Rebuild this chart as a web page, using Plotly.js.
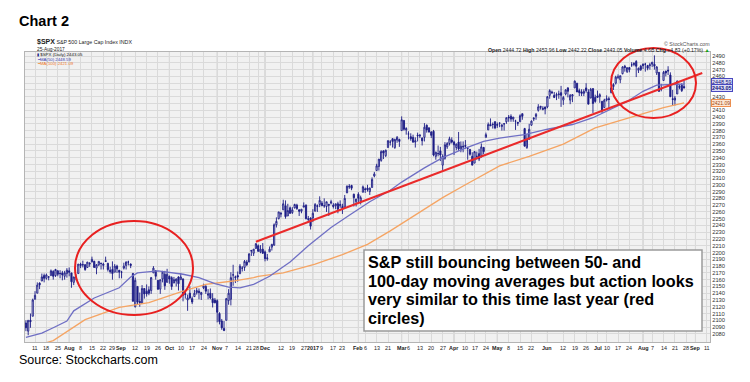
<!DOCTYPE html>
<html><head><meta charset="utf-8">
<script src="https://cdn.plot.ly/plotly-3.0.1.min.js"></script>
<style>html,body{margin:0;padding:0;background:#fff}#chart{width:750px;height:382px}</style>
</head><body><div id="chart"></div><script>
// trading days shown on the axis (data runs to 2017-08-25, axis continues to mid Sep 2017)
const tradingDays = {
 '2016-07':[5,6,7,8,11,12,13,14,15,18,19,20,21,22,25,26,27,28,29],
 '2016-08':[1,2,3,4,5,8,9,10,11,12,15,16,17,18,19,22,23,24,25,26,29,30,31],
 '2016-09':[1,2,6,7,8,9,12,13,14,15,16,19,20,21,22,23,26,27,28,29,30],
 '2016-10':[3,4,5,6,7,10,11,12,13,14,17,18,19,20,21,24,25,26,27,28,31],
 '2016-11':[1,2,3,4,7,8,9,10,11,14,15,16,17,18,21,22,23,25,28,29,30],
 '2016-12':[1,2,5,6,7,8,9,12,13,14,15,16,19,20,21,22,23,27,28,29,30],
 '2017-01':[3,4,5,6,9,10,11,12,13,17,18,19,20,23,24,25,26,27,30,31],
 '2017-02':[1,2,3,6,7,8,9,10,13,14,15,16,17,21,22,23,24,27,28],
 '2017-03':[1,2,3,6,7,8,9,10,13,14,15,16,17,20,21,22,23,24,27,28,29,30,31],
 '2017-04':[3,4,5,6,7,10,11,12,13,17,18,19,20,21,24,25,26,27,28],
 '2017-05':[1,2,3,4,5,8,9,10,11,12,15,16,17,18,19,22,23,24,25,26,30,31],
 '2017-06':[1,2,5,6,7,8,9,12,13,14,15,16,19,20,21,22,23,26,27,28,29,30],
 '2017-07':[3,5,6,7,10,11,12,13,14,17,18,19,20,21,24,25,26,27,28,31],
 '2017-08':[1,2,3,4,7,8,9,10,11,14,15,16,17,18,21,22,23,24,25,28,29,30,31],
 '2017-09':[1,5,6,7,8,11,12,13]
};

// daily OHLC of $SPX, 2016-07-05 .. 2017-08-25 (one row per month)
const open = [
 2096,2084,2100,2106,2131,2140,2155,2158,2166,2162,2164,2166,2172,2166,2173,2169,2170,2165,2169,
 2173,2170,2156,2164,2169,2183,2182,2182,2178,2183,2186,2187,2177,2182,2184,2181,2188,2184,2174,2175,2171,2180,2174,
 2171,2177,2181,2186,2183,2169,2120,2150,2128,2125,2147,2143,2145,2144,2170,2173,2159,2146,2161,2168,2156,
 2165,2163,2155,2158,2164,2160,2161,2138,2130,2140,2132,2135,2141,2143,2138,2148,2150,2137,2140,2132,2130,
 2129,2110,2099,2088,2100,2129,2131,2167,2163,2166,2169,2177,2178,2186,2186,2202,2199,2206,2210,2201,2205,
 2201,2191,2201,2208,2211,2241,2250,2258,2263,2269,2254,2266,2259,2266,2270,2263,2261,2267,2270,2250,2251,
 2251,2261,2268,2271,2273,2269,2268,2271,2273,2270,2269,2272,2269,2268,2267,2288,2298,2299,2286,2275,
 2286,2276,2289,2294,2295,2290,2296,2313,2321,2327,2336,2350,2343,2355,2363,2368,2355,2366,2367,
 2380,2395,2381,2375,2371,2370,2363,2372,2372,2369,2370,2388,2384,2378,2379,2342,2346,2350,2329,2339,2356,2361,2366,
 2363,2355,2363,2353,2357,2358,2354,2352,2342,2332,2342,2346,2343,2355,2370,2381,2389,2389,2393,
 2389,2391,2386,2390,2393,2400,2401,2397,2394,2392,2393,2405,2383,2355,2367,2388,2397,2401,2410,2414,2411,2415,
 2415,2432,2437,2432,2432,2433,2436,2425,2434,2443,2425,2431,2443,2450,2439,2437,2435,2443,2437,2428,2442,2429,
 2431,2430,2423,2414,2425,2427,2436,2445,2450,2459,2455,2464,2475,2467,2473,2477,2479,2482,2469,2475,
 2478,2478,2476,2476,2478,2478,2465,2466,2441,2454,2468,2469,2462,2427,2425,2434,2445,2447,2445
];
const high = [
 2100,2100,2110,2132,2143,2156,2156,2169,2169,2169,2165,2175,2174,2176,2174,2174,2173,2173,2177,
 2178,2170,2164,2168,2183,2185,2188,2183,2186,2186,2194,2188,2183,2187,2185,2185,2194,2185,2179,2187,2183,2182,2174,
 2173,2185,2187,2188,2184,2170,2163,2150,2141,2152,2147,2153,2150,2164,2180,2174,2159,2160,2173,2173,2176,
 2166,2165,2164,2162,2165,2170,2162,2145,2138,2150,2135,2145,2148,2147,2142,2154,2152,2146,2147,2140,2133,
 2131,2112,2102,2099,2133,2146,2171,2182,2166,2172,2183,2180,2189,2189,2199,2204,2205,2214,2212,2211,2214,
 2203,2198,2209,2213,2243,2252,2260,2260,2278,2277,2272,2268,2267,2272,2272,2264,2264,2274,2271,2254,2252,
 2264,2273,2271,2283,2276,2280,2275,2272,2278,2273,2272,2275,2277,2272,2285,2299,2301,2300,2287,2279,
 2289,2284,2299,2296,2300,2296,2311,2319,2331,2338,2351,2351,2352,2366,2366,2369,2368,2372,2368,
 2401,2395,2385,2379,2376,2374,2370,2377,2375,2370,2391,2389,2385,2379,2381,2349,2358,2356,2345,2363,2363,2371,2370,
 2365,2361,2378,2364,2364,2366,2356,2353,2348,2350,2349,2353,2361,2356,2377,2392,2398,2392,2394,
 2392,2392,2390,2391,2399,2403,2404,2400,2396,2393,2404,2405,2384,2375,2390,2395,2400,2406,2419,2416,2416,2415,
 2431,2441,2439,2437,2436,2439,2446,2431,2441,2444,2434,2434,2454,2450,2442,2441,2441,2450,2441,2443,2442,2433,
 2439,2435,2424,2427,2432,2430,2445,2450,2461,2463,2461,2475,2477,2473,2474,2481,2481,2484,2473,2477,
 2479,2480,2477,2480,2481,2491,2475,2466,2449,2468,2468,2475,2466,2440,2431,2454,2449,2450,2454
];
const low = [
 2084,2078,2089,2106,2131,2140,2146,2158,2156,2160,2159,2166,2160,2164,2165,2162,2159,2160,2163,
 2165,2148,2152,2159,2169,2177,2178,2173,2178,2179,2186,2178,2168,2180,2175,2175,2186,2172,2169,2160,2171,2170,2162,
 2162,2175,2175,2181,2177,2128,2119,2124,2120,2124,2132,2135,2137,2139,2170,2160,2145,2139,2156,2145,2156,
 2154,2145,2155,2150,2144,2160,2128,2132,2114,2131,2124,2135,2138,2131,2130,2146,2139,2131,2131,2119,2125,
 2097,2094,2086,2084,2100,2123,2122,2151,2155,2157,2168,2172,2173,2180,2186,2195,2195,2206,2201,2199,2198,
 2187,2188,2201,2203,2210,2237,2249,2252,2263,2250,2254,2257,2257,2265,2263,2254,2258,2267,2249,2245,2234,
 2245,2261,2260,2267,2269,2266,2260,2254,2271,2265,2264,2258,2266,2257,2267,2288,2294,2292,2268,2268,
 2272,2271,2289,2288,2290,2285,2296,2311,2321,2321,2334,2338,2341,2355,2358,2355,2353,2362,2356,
 2380,2380,2374,2367,2365,2362,2355,2364,2369,2358,2364,2377,2377,2369,2342,2337,2342,2335,2322,2337,2353,2358,2361,
 2344,2351,2350,2348,2348,2353,2337,2343,2329,2332,2337,2335,2340,2345,2370,2381,2387,2383,2382,
 2384,2385,2380,2380,2390,2393,2393,2393,2381,2387,2393,2396,2357,2353,2367,2387,2394,2396,2408,2411,2410,2404,
 2413,2427,2434,2428,2425,2427,2415,2418,2432,2429,2419,2422,2443,2437,2431,2431,2431,2436,2419,2428,2406,2421,
 2429,2421,2406,2414,2423,2413,2435,2440,2448,2456,2450,2463,2467,2465,2466,2474,2475,2459,2465,2468,
 2471,2467,2469,2470,2474,2470,2462,2437,2438,2454,2460,2462,2430,2417,2417,2434,2441,2437,2442
];
const close = [
 2089,2100,2098,2130,2137,2152,2152,2164,2162,2167,2164,2173,2165,2175,2168,2169,2167,2170,2174,
 2171,2157,2164,2164,2183,2181,2182,2175,2186,2184,2190,2178,2182,2187,2184,2183,2187,2175,2172,2169,2180,2176,2171,
 2171,2180,2186,2186,2181,2128,2159,2127,2126,2147,2139,2139,2140,2163,2177,2165,2146,2160,2171,2151,2168,
 2161,2150,2160,2161,2154,2164,2137,2139,2133,2133,2127,2140,2144,2141,2141,2151,2143,2139,2133,2126,2126,
 2112,2098,2089,2085,2132,2140,2163,2167,2164,2164,2180,2177,2187,2182,2198,2203,2205,2213,2202,2205,2199,
 2191,2192,2205,2212,2241,2246,2260,2257,2272,2253,2262,2258,2263,2271,2265,2261,2264,2269,2250,2249,2239,
 2258,2271,2269,2277,2269,2269,2275,2270,2275,2268,2272,2264,2271,2265,2280,2298,2297,2295,2281,2279,
 2280,2281,2297,2293,2293,2295,2308,2316,2328,2338,2349,2347,2351,2365,2363,2364,2367,2370,2364,
 2396,2382,2383,2375,2368,2363,2365,2373,2373,2365,2385,2381,2378,2373,2344,2348,2346,2344,2342,2359,2361,2368,2363,
 2359,2360,2353,2357,2356,2357,2354,2345,2329,2349,2342,2338,2356,2349,2374,2389,2387,2389,2384,
 2388,2391,2388,2390,2399,2399,2397,2400,2394,2391,2402,2401,2357,2366,2382,2394,2398,2404,2415,2416,2413,2412,
 2430,2439,2436,2429,2433,2434,2432,2429,2440,2438,2432,2433,2453,2437,2436,2435,2438,2439,2419,2441,2420,2423,
 2429,2433,2410,2425,2427,2426,2443,2448,2459,2459,2461,2474,2473,2473,2470,2477,2478,2475,2472,2470,
 2476,2478,2472,2477,2481,2475,2474,2438,2441,2466,2465,2468,2430,2426,2428,2453,2444,2439,2443
];

// moving averages
const ma50Dates = ['2016-07-05','2016-07-14','2016-07-21','2016-07-29','2016-08-03','2016-08-16','2016-08-31','2016-09-06','2016-09-08','2016-09-13','2016-09-26','2016-10-11','2016-10-20','2016-10-31','2016-11-08','2016-11-15','2016-11-23','2016-12-05','2016-12-16','2016-12-29','2017-01-13','2017-01-26','2017-02-08','2017-02-22','2017-03-01','2017-03-15','2017-03-27','2017-04-10','2017-04-21','2017-05-02','2017-05-17','2017-06-01','2017-06-16','2017-06-29','2017-07-13','2017-07-21','2017-08-01','2017-08-09','2017-08-18','2017-08-25'];
const ma50Values = [2075,2081,2089,2099,2114,2133,2148,2158,2164,2170,2173,2168,2163,2154,2149,2148,2153,2165,2186,2210,2237,2255,2275,2292,2304,2325,2340,2354,2364,2369,2374,2382,2389,2399,2413,2423,2438,2447,2448,2448.6];
const ma100Dates = ['2016-07-05','2016-07-21','2016-08-10','2016-08-31','2016-09-20','2016-10-11','2016-10-25','2016-11-10','2016-11-23','2016-11-28','2016-12-13','2017-01-04','2017-01-23','2017-02-07','2017-02-22','2017-03-09','2017-03-27','2017-04-10','2017-04-21','2017-05-02','2017-05-19','2017-06-12','2017-06-30','2017-07-24','2017-08-14','2017-08-25'];
const ma100Values = [2058,2070,2101,2119,2126,2143,2153,2158,2163,2165,2170,2183,2197,2212,2232,2256,2281,2300,2315,2328,2342,2360,2384,2399,2414,2421.09];

// trend line drawn on the chart (date, price)
const trendStart = ['2016-11-25', 2216];
const trendEnd = ['2017-09-07', 2465];

// x-axis labels
const tickDates = ['2016-07-11','2016-07-18','2016-07-25','2016-08-01','2016-08-08','2016-08-15','2016-08-22','2016-08-29','2016-09-01','2016-09-12','2016-09-19','2016-09-26','2016-10-03','2016-10-10','2016-10-17','2016-10-24','2016-11-01','2016-11-07','2016-11-14','2016-11-21','2016-11-28','2016-12-01','2016-12-12','2016-12-19','2016-12-27','2017-01-03','2017-01-09','2017-01-17','2017-01-23','2017-02-01','2017-02-06','2017-02-13','2017-02-21','2017-03-01','2017-03-06','2017-03-13','2017-03-20','2017-03-27','2017-04-03','2017-04-10','2017-04-17','2017-04-24','2017-05-01','2017-05-08','2017-05-15','2017-05-22','2017-06-01','2017-06-12','2017-06-19','2017-06-26','2017-07-03','2017-07-10','2017-07-17','2017-07-24','2017-08-01','2017-08-07','2017-08-14','2017-08-21','2017-08-28','2017-09-01','2017-09-11'];
const tickLabels = ['11','18','25','Aug','8','15','22','29','Sep','12','19','26','Oct','10','17','24','Nov','7','14','21','28','Dec','12','19','27','2017','9','17','23','Feb','6','13','21','Mar','6','13','20','27','Apr','10','17','24','May','8','15','22','Jun','12','19','26','Jul','10','17','24','Aug','7','14','21','28','Sep','11'];
const monthLabels = ['Aug','Sep','Oct','Nov','Dec','2017','Feb','Mar','Apr','May','Jun','Jul'];

// price axis labels (those hidden behind the last-value tags are left blank)
const priceTicks = [];
for (let v = 2080; v <= 2490; v += 10) priceTicks.push(v);
const hiddenPriceLabels = [2420, 2440, 2450];

// ---------- build ----------
const dates = [];
for (const [ym, days] of Object.entries(tradingDays)) for (const d of days) dates.push(ym + '-' + String(d).padStart(2, '0'));
const pos = d => dates.indexOf(d);
const N = Math.min(open.length, high.length, low.length, close.length);
const xs = [];
for (let i = 0; i < N; i++) xs.push(i);

const NAVY = '#1c1c86';
const FONT = 'Liberation Sans, Arial, sans-serif';
const L = 25, T = 52, W = 685, H = 290;
const PX = p => (p - L) / W, PY = p => (T + H - p) / H;

const traces = [
 {type:'scatter', mode:'lines', x: ma100Dates.map(pos), y: ma100Values, line:{color:'#f5a463', width:1.3}, hoverinfo:'skip'},
 {type:'scatter', mode:'lines', x: ma50Dates.map(pos), y: ma50Values, line:{color:'#6f6fc4', width:1.3}, hoverinfo:'skip'},
 {type:'candlestick', x: xs, open: open.slice(0,N), high: high.slice(0,N), low: low.slice(0,N), close: close.slice(0,N),
  increasing:{line:{color:NAVY, width:0.9}, fillcolor:'rgba(255,255,255,0.4)'},
  decreasing:{line:{color:NAVY, width:0.9}, fillcolor:NAVY},
  whiskerwidth:0, hoverinfo:'skip'}
];

const tickvals = tickDates.map(pos);

const shapes = [];
tickLabels.forEach((t, k) => {
 if (monthLabels.includes(t)) shapes.push({type:'line', layer:'below', xref:'x', yref:'paper', x0:tickvals[k], x1:tickvals[k], y0:0, y1:1, line:{color:'#c4c4c4', width:1}});
});
shapes.push({type:'line', xref:'x', yref:'y', x0:pos(trendStart[0]), y0:trendStart[1], x1:pos(trendEnd[0]), y1:trendEnd[1], line:{color:'#ea2a2a', width:2}});
shapes.push({type:'circle', xref:'paper', yref:'paper', x0:PX(75), x1:PX(193), y0:PY(315), y1:PY(221), line:{color:'#e82020', width:2}});
shapes.push({type:'circle', xref:'paper', yref:'paper', x0:PX(611), x1:PX(696), y0:PY(118), y1:PY(48), line:{color:'#e82020', width:2}});
shapes.push({type:'rect', xref:'paper', yref:'paper', x0:PX(364), x1:PX(702), y0:PY(331), y1:PY(250), fillcolor:'#ffffff', line:{color:'#9a9a9a', width:1.5}});

const ann = (px, py, text, opts = {}) => Object.assign({xref:'paper', yref:'paper', x:PX(px), y:PY(py), text, showarrow:false, xanchor:'left', yanchor:'middle', font:{family:FONT, size:6, color:'#222'}}, opts);
const boxLines = ['S&P still bouncing between 50- and', '100-day moving averages but action looks', 'very similar to this time last year (red', 'circles)'];
const annotations = [
 ann(17, 21, '<b>Chart 2</b>', {font:{family:FONT, size:14.5, color:'#000'}}),
 ann(17, 360, 'Source: Stockcharts.com', {font:{family:FONT, size:12.5, color:'#000'}}),
 ann(35, 42, '<b><span style="font-size:7px">$SPX</span></b> S&P 500 Large Cap Index INDX', {font:{family:FONT, size:5.3, color:'#222'}}),
 ann(35, 49.6, '25-Aug-2017', {font:{family:FONT, size:4.8, color:'#222'}}),
 ann(35, 54.8, '<span style="color:#1c1c86">▮</span> $SPX (Daily) 2443.05', {font:{family:FONT, size:4.4, color:'#111'}}),
 ann(35, 59.2, '━MA(50) 2448.59', {font:{family:FONT, size:4.3, color:'#3a3ab0'}}),
 ann(35, 63.7, '━MA(100) 2421.09', {font:{family:FONT, size:4.3, color:'#f07a2a'}}),
 ann(712, 44.2, '© StockCharts.com', {xanchor:'right', font:{family:FONT, size:5.3, color:'#555'}}),
 ann(712, 49.6, '<b>Open</b> 2444.72 <b>High</b> 2453.96 <b>Low</b> 2442.22 <b>Close</b> 2443.05 <b>Volume</b> 4.6B <b>Chg</b> +4.83 (+0.17%) <span style="color:#10a010">▲</span>', {xanchor:'right', font:{family:FONT, size:5.2, color:'#222'}}),
 ann(711, 82, '2448.59', {font:{family:FONT, size:5.4, color:'#10107a'}, bgcolor:'#dcdcf6', bordercolor:'#4848c0', borderwidth:1, borderpad:0}),
 ann(711, 88, '<b>2443.05</b>', {font:{family:FONT, size:5.4, color:'#10107a'}, bgcolor:'#dcdcf6', bordercolor:'#4848c0', borderwidth:1, borderpad:0}),
 ann(711, 103, '2421.09', {font:{family:FONT, size:5.0, color:'#a04810'}, bgcolor:'#fde6d4', bordercolor:'#f09050', borderwidth:1, borderpad:0})
];
boxLines.forEach((t, k) => annotations.push(ann(366, 262 + k * 18.6, '<b>' + t + '</b>', {font:{family:FONT, size:16.2, color:'#000'}})));

// x-axis labels as annotations on the axis (a weekly label right before a month label is right-aligned to avoid crowding)
tickLabels.forEach((t, k) => {
 const isMonth = monthLabels.includes(t);
 const crowded = !isMonth && k + 1 < tickLabels.length && monthLabels.includes(tickLabels[k + 1]) && tickvals[k + 1] - tickvals[k] <= 3;
 annotations.push({xref:'x', yref:'paper', x:tickvals[k], y:0, yanchor:'top', yshift:-1.5,
  xanchor: crowded ? 'right' : 'center', xshift: crowded ? 1.5 : 0,
  text: isMonth ? '<b>' + t + '</b>' : t, showarrow:false, borderpad:0,
  font:{family:FONT, size:5.4, color:'#222'}});
});

const layout = {
 width:750, height:382, margin:{l:L, r:750 - L - W, t:T, b:382 - T - H},
 paper_bgcolor:'#ffffff', plot_bgcolor:'#f1f1f1', showlegend:false, hovermode:false,
 font:{family:FONT},
 xaxis:{range:[-0.4, 300.4], tickmode:'array', tickvals, showticklabels:false, showgrid:true, gridcolor:'#dadada', gridwidth:1,
  zeroline:false, showline:true, mirror:true, linecolor:'#b4b4b4', linewidth:1, ticks:'',
  rangeslider:{visible:false}, fixedrange:true},
 yaxis:{side:'right', range:[2068, 2496], tickmode:'array', tickvals:priceTicks,
  ticktext:priceTicks.map(v => hiddenPriceLabels.includes(v) ? '' : String(v)), showgrid:true, gridcolor:'#dadada', gridwidth:1,
  zeroline:false, showline:true, mirror:true, linecolor:'#b4b4b4', linewidth:1, ticks:'', tickfont:{size:5.8, color:'#333', family:FONT}, fixedrange:true},
 boxgap:0.25,
 shapes, annotations
};
Plotly.newPlot('chart', traces, layout, {staticPlot:true, displayModeBar:false});
</script></body></html>
